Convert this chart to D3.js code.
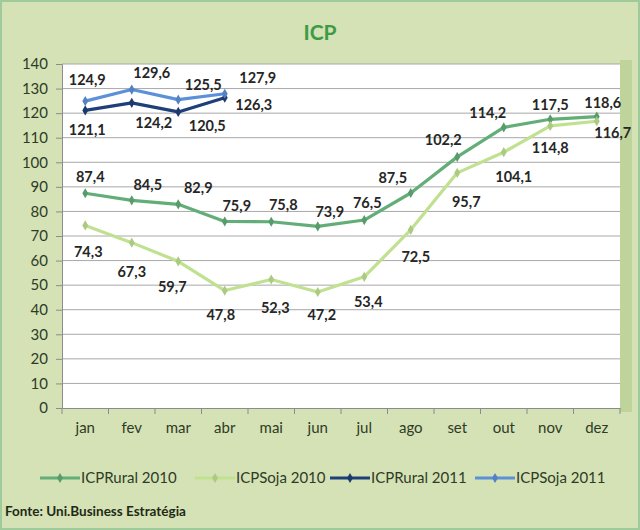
<!DOCTYPE html>
<html><head><meta charset="utf-8">
<script src="https://cdn.jsdelivr.net/npm/d3@7"></script>
<style>body{margin:0;background:#d4e2b5;}svg{display:block;}</style>
</head><body><svg id="c" width="640" height="530"></svg>
<script>
const months = ["jan","fev","mar","abr","mai","jun","jul","ago","set","out","nov","dez"];
const ruralTen = [87.4,84.5,82.9,75.9,75.8,73.9,76.5,87.5,102.2,114.2,117.5,118.6];
const sojaTen = [74.3,67.3,59.7,47.8,52.3,47.2,53.4,72.5,95.7,104.1,114.8,116.7];
const ruralEleven = [121.1,124.2,120.5,126.3];
const sojaEleven = [124.9,129.6,125.5,127.9];
const yTicks = [0,10,20,30,40,50,60,70,80,90,100,110,120,130,140];
const seriesNames = ["ICPRural 2010","ICPSoja 2010","ICPRural 2011","ICPSoja 2011"];

// label offsets (dx, dy) of label centre relative to the point, style only
const offRuralTen = [[5,-16],[16,-15],[20,-16],[12,-16],[12,-17],[12,-14],[3,-17],[-18,-15],[-14,-17],[-16,-14],[0,-14],[6,-14]];
const offSojaTen = [[3,27],[0,29],[-6,26],[-4,24],[4,29],[4,23],[4,25],[5,27],[9,29],[10,25],[0,22],[16,12]];
const offRuralEleven = [[2,20],[22,20],[29,14],[29,7]];
const offSojaEleven = [[2,-21],[20,-17],[25,-15],[33,-16]];

const colors = ["#63ae78","#bfe190","#1f3f78","#5c90d8"];
const svg = d3.select("#c");
const W=640,H=530;
svg.append("rect").attr("x",1).attr("y",1).attr("width",W-2).attr("height",H-2)
  .attr("fill","#d4e2b5").attr("stroke","#9fcb9a").attr("stroke-width",2);

const m={l:62,r:620,t:64,b:408};
const x = d3.scaleBand().domain(months).range([m.l,m.r]);
const y = d3.scaleLinear().domain([0,140]).range([m.b,m.t]);

svg.append("rect").attr("x",m.r).attr("y",m.t-4).attr("width",12).attr("height",m.b-m.t+8).attr("fill","#bfd49a");
svg.append("rect").attr("x",m.l).attr("y",m.t).attr("width",m.r-m.l).attr("height",m.b-m.t).attr("fill","#ffffff");

svg.append("text").attr("x",320).attr("y",40).attr("text-anchor","middle")
  .attr("font-family","Lato, 'Open Sans', sans-serif").attr("font-weight","bold").attr("font-size",21)
  .attr("fill","#3d9b47").text("ICP");

// grid
svg.append("g").selectAll("line").data(yTicks.filter(d=>d>0)).join("line")
  .attr("x1",m.l).attr("x2",m.r).attr("y1",d=>y(d)).attr("y2",d=>y(d))
  .attr("stroke","#a8a8a8").attr("stroke-width",1);

const fam="Lato, 'Open Sans', sans-serif";
const ya = svg.append("g").attr("transform",`translate(${m.l},0)`)
  .call(d3.axisLeft(y).tickValues(yTicks).tickSize(6).tickPadding(8));
ya.select(".domain").attr("stroke","#8c8c8c");
ya.selectAll("line").attr("stroke","#8c8c8c");
ya.selectAll("text").attr("font-family",fam).attr("font-size",15).attr("fill","#2f3b26");

const xa = svg.append("g").attr("transform",`translate(0,${m.b})`)
  .call(d3.axisBottom(x).tickSize(0).tickPadding(14));
xa.select(".domain").attr("stroke","#8c8c8c");
xa.selectAll("text").attr("font-family",fam).attr("font-size",15).attr("fill","#2f3b26");
svg.append("g").selectAll("line").data(months.concat(["end"])).join("line")
  .attr("x1",(d,i)=>m.l+i*x.bandwidth()).attr("x2",(d,i)=>m.l+i*x.bandwidth())
  .attr("y1",m.b).attr("y2",m.b+6).attr("stroke","#8c8c8c");

const series=[
  {vals:ruralTen,off:offRuralTen,c:colors[0]},
  {vals:sojaTen,off:offSojaTen,c:colors[1]},
  {vals:ruralEleven,off:offRuralEleven,c:colors[2]},
  {vals:sojaEleven,off:offSojaEleven,c:colors[3]}
];
const cx = i=>x(months[i])+x.bandwidth()/2;
const line = d3.line().x((d,i)=>cx(i)).y(d=>y(d));
series.forEach(s=>{
  svg.append("path").datum(s.vals).attr("d",line).attr("fill","none")
    .attr("stroke",s.c).attr("stroke-width",3.2).attr("stroke-linejoin","round");
  svg.append("g").selectAll("path").data(s.vals).join("path")
    .attr("d",d3.symbol(d3.symbolDiamond,30))
    .attr("transform",(d,i)=>`translate(${cx(i)},${y(d)})`)
    .attr("fill",d3.color(s.c).darker(0.3));
});
series.forEach(s=>{
  svg.append("g").selectAll("text").data(s.vals).join("text")
    .attr("x",(d,i)=>cx(i)+s.off[i][0]).attr("y",(d,i)=>y(d)+s.off[i][1]+5)
    .attr("text-anchor","middle").attr("font-family",fam).attr("font-weight","bold")
    .attr("font-size",14.5).attr("fill","#262626")
    .text(d=>d.toFixed(1).replace(".",","));
});

// legend
const legX=[40,195,330,475];
const lg = svg.append("g");
seriesNames.forEach((n,i)=>{
  const g=lg.append("g").attr("transform",`translate(${legX[i]},478)`);
  g.append("line").attr("x1",0).attr("x2",40).attr("y1",0).attr("y2",0).attr("stroke",colors[i]).attr("stroke-width",3.2);
  g.append("path").attr("d",d3.symbol(d3.symbolDiamond,30)).attr("transform","translate(20,0)").attr("fill",d3.color(colors[i]).darker(0.3));
  g.append("text").attr("x",41).attr("y",5).attr("font-family",fam).attr("font-size",15).attr("fill","#2f3b26").text(n);
});

svg.append("text").attr("x",5).attr("y",516).attr("font-family",fam).attr("font-weight","bold")
  .attr("font-size",13.5).attr("fill","#1e2a16").text("Fonte: Uni.Business Estratégia");
</script></body></html>
